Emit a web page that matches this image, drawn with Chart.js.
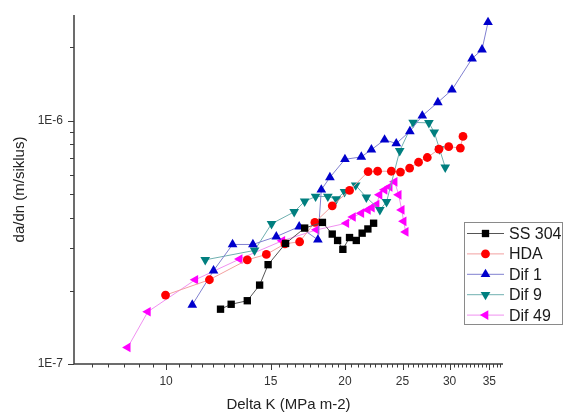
<!DOCTYPE html>
<html>
<head>
<meta charset="utf-8">
<script src="https://cdn.jsdelivr.net/npm/chart.js@4.4.0/dist/chart.umd.min.js"></script>
<style>
body { margin: 0; background: #fff; }
#wrap { width: 564px; height: 415px; }
</style>
</head>
<body>
<div id="wrap"><canvas id="myChart" width="564" height="415"></canvas></div>
<script>
// Delta K (MPa m-2) vs da/dn (m/siklus)
var ss304X = [12.35, 12.87, 13.70, 14.37, 14.85, 15.89, 17.11, 18.33, 19.04, 19.44, 19.84, 20.36, 20.90, 21.38, 21.86, 22.35];
var ss304Y = [1.68e-7, 1.76e-7, 1.82e-7, 2.11e-7, 2.56e-7, 3.13e-7, 3.62e-7, 3.82e-7, 3.42e-7, 3.22e-7, 2.96e-7, 3.31e-7, 3.22e-7, 3.45e-7, 3.59e-7, 3.79e-7];

var hdaX = [9.98, 11.83, 13.70, 14.75, 15.85, 16.78, 17.80, 19.04, 20.36, 21.88, 22.70, 23.94, 24.80, 25.70, 26.60, 27.52, 28.79, 29.90, 31.28, 31.60];
var hdaY = [1.92e-7, 2.22e-7, 2.68e-7, 2.82e-7, 3.12e-7, 3.18e-7, 3.82e-7, 4.47e-7, 5.17e-7, 6.18e-7, 6.20e-7, 6.20e-7, 6.15e-7, 6.39e-7, 6.75e-7, 7.06e-7, 7.64e-7, 7.82e-7, 7.72e-7, 8.62e-7];

var dif1X = [11.07, 12.02, 12.94, 14.00, 15.33, 16.75, 18.01, 18.25, 18.87, 20.00, 21.31, 22.16, 23.32, 24.40, 25.72, 26.99, 28.67, 30.28, 32.73, 34.02, 34.82];
var dif1Y = [1.75e-7, 2.42e-7, 3.10e-7, 3.10e-7, 3.34e-7, 3.67e-7, 3.24e-7, 5.20e-7, 5.85e-7, 6.94e-7, 7.10e-7, 7.60e-7, 8.35e-7, 8.06e-7, 9.04e-7, 1.048e-6, 1.19e-6, 1.34e-6, 1.80e-6, 1.96e-6, 2.54e-6];

var dif9X = [11.64, 14.09, 15.05, 16.43, 17.11, 17.85, 18.72, 19.34, 19.97, 20.85, 21.73, 22.90, 23.50, 24.73, 26.05, 27.69, 28.27, 28.86, 29.50];
var dif9Y = [2.68e-7, 2.93e-7, 3.77e-7, 4.22e-7, 4.66e-7, 4.88e-7, 4.88e-7, 4.76e-7, 5.10e-7, 5.43e-7, 4.84e-7, 4.30e-7, 4.64e-7, 7.52e-7, 9.84e-7, 9.80e-7, 8.97e-7, 7.64e-7, 6.43e-7];

var dif49X = [8.62, 9.32, 11.20, 13.30, 15.69, 17.92, 20.11, 20.63, 21.31, 21.86, 22.20, 22.61, 22.87, 23.32, 23.78, 24.25, 24.63, 24.92, 25.11, 25.31];
var dif49Y = [1.17e-7, 1.64e-7, 2.22e-7, 2.70e-7, 3.21e-7, 3.56e-7, 3.79e-7, 4.02e-7, 4.17e-7, 4.30e-7, 4.39e-7, 4.52e-7, 4.96e-7, 5.20e-7, 5.35e-7, 5.61e-7, 4.96e-7, 4.30e-7, 3.86e-7, 3.49e-7];

var seriesNames = ['SS 304', 'HDA', 'Dif 1', 'Dif 9', 'Dif 49'];

var xTickValues = [10, 15, 20, 25, 30, 35];
var xTickLabels = ['10', '15', '20', '25', '30', '35'];
var yTickValues = [1e-7, 1e-6];
var yTickLabels = ['1E-7', '1E-6'];

var FONT = "'Liberation Sans', Arial, Helvetica, sans-serif";

function pts(xs, ys) {
  return xs.map(function (x, i) { return { x: x, y: ys[i] }; });
}

function mkSet(label, xs, ys, color, lineColor, style, rot, r) {
  return {
    label: label,
    data: pts(xs, ys),
    showLine: true,
    borderColor: lineColor,
    borderWidth: 1,
    backgroundColor: color,
    pointBackgroundColor: color,
    pointBorderColor: color,
    pointBorderWidth: 0,
    pointStyle: style,
    pointRotation: rot,
    pointRadius: r,
    tension: 0
  };
}

var datasets = [
  mkSet(seriesNames[0], ss304X, ss304Y, '#000000', '#555555', 'rect', 0, 5.2),
  mkSet(seriesNames[1], hdaX, hdaY, '#ff0000', '#f2a0a0', 'circle', 0, 4.4),
  mkSet(seriesNames[2], dif1X, dif1Y, '#0000cc', '#8080d0', 'triangle', 0, 5.6),
  mkSet(seriesNames[3], dif9X, dif9Y, '#007f7f', '#70b0b0', 'triangle', 180, 5.6),
  mkSet(seriesNames[4], dif49X, dif49Y, '#ff00ff', '#f090f0', 'triangle', -90, 5.6)
];

// axis lines, major/minor ticks and the boxed legend, Origin style
var originPlugin = {
  id: 'originStyle',
  afterDraw: function (chart) {
    var ctx = chart.ctx, a = chart.chartArea;
    var xs = chart.scales.x, ys = chart.scales.y;
    ctx.save();
    ctx.strokeStyle = '#3c3c3c';
    ctx.lineWidth = 1.5;
    ctx.beginPath();
    ctx.moveTo(a.left, a.top);
    ctx.lineTo(a.left, a.bottom);
    ctx.lineTo(a.right, a.bottom);
    ctx.stroke();

    ctx.lineWidth = 1;
    ctx.beginPath();
    for (var v = 7.5; v <= 36.6; v += 0.5) {
      var px = Math.round(xs.getPixelForValue(v)) + 0.5;
      var len = xTickValues.indexOf(v) >= 0 ? 6 : 3.5;
      ctx.moveTo(px, a.bottom);
      ctx.lineTo(px, a.bottom + len);
    }
    var dec = [1e-7, 1e-6];
    dec.forEach(function (d) {
      for (var m = 1; m <= 9; m++) {
        var val = d * m;
        if (val > ys.max) break;
        var py = Math.round(ys.getPixelForValue(val)) + 0.5;
        var l = m === 1 ? 6 : 4;
        ctx.moveTo(a.left, py);
        ctx.lineTo(a.left - l, py);
      }
    });
    ctx.stroke();

    // legend box
    var bx = 464, by = 222, bw = 98, bh = 102;
    ctx.strokeStyle = '#8a8a8a';
    ctx.lineWidth = 1;
    ctx.strokeRect(bx + 0.5, by + 0.5, bw, bh);
    chart.data.datasets.forEach(function (ds, i) {
      var cy = 233.5 + i * 20.4;
      ctx.strokeStyle = ds.borderColor;
      ctx.lineWidth = 1;
      ctx.beginPath();
      ctx.moveTo(467, cy);
      ctx.lineTo(504, cy);
      ctx.stroke();
      ctx.fillStyle = ds.pointBackgroundColor;
      ctx.strokeStyle = ds.pointBorderColor;
      Chart.helpers.drawPoint(ctx, {
        pointStyle: ds.pointStyle,
        rotation: ds.pointRotation,
        radius: ds.pointRadius,
        borderWidth: 0
      }, 485.5, cy);
      ctx.fillStyle = '#1a1a1a';
      ctx.font = '16px ' + FONT;
      ctx.textAlign = 'left';
      ctx.textBaseline = 'middle';
      ctx.fillText(ds.label, 509, cy + 1);
    });
    ctx.restore();
  }
};

var ctx = document.getElementById('myChart').getContext('2d');
var fracChart = new Chart(ctx, {
  type: 'scatter',
  data: { datasets: datasets },
  plugins: [originPlugin],
  options: {
    responsive: false,
    animation: false,
    devicePixelRatio: 1,
    layout: { padding: { top: 15, right: 61, left: 0, bottom: 0 } },
    plugins: { legend: { display: false }, tooltip: { enabled: false } },
    scales: {
      x: {
        type: 'logarithmic',
        position: 'bottom',
        min: 7,
        max: 36.9,
        grid: { display: false, drawTicks: false },
        border: { display: false },
        afterBuildTicks: function (scale) {
          scale.ticks = xTickValues.map(function (v) { return { value: v }; });
        },
        afterFit: function (scale) {
          scale.height = 51;
          scale.paddingLeft = 0;
          scale.paddingRight = 0;
        },
        ticks: {
          autoSkip: false,
          maxRotation: 0,
          padding: 10,
          color: '#333',
          font: { family: FONT, size: 12 },
          callback: function (v) {
            var i = xTickValues.indexOf(v);
            return i >= 0 ? xTickLabels[i] : '';
          }
        },
        title: {
          display: true,
          text: 'Delta K (MPa m-2)',
          color: '#222',
          font: { family: FONT, size: 15 },
          padding: { top: 0, bottom: 1 }
        }
      },
      y: {
        type: 'logarithmic',
        position: 'left',
        min: 1e-7,
        max: 2.72e-6,
        grid: { display: false, drawTicks: false },
        border: { display: false },
        afterBuildTicks: function (scale) {
          scale.ticks = yTickValues.map(function (v) { return { value: v }; });
        },
        afterFit: function (scale) {
          scale.width = 74;
          scale.paddingTop = 0;
          scale.paddingBottom = 0;
        },
        ticks: {
          autoSkip: false,
          padding: 11,
          color: '#333',
          font: { family: FONT, size: 12 },
          callback: function (v) {
            var i = yTickValues.indexOf(v);
            return i >= 0 ? yTickLabels[i] : '';
          }
        },
        title: {
          display: true,
          text: 'da/dn (m/siklus)',
          color: '#222',
          font: { family: FONT, size: 15 },
          padding: { top: 11, bottom: 0 }
        }
      }
    }
  }
});
</script>
</body>
</html>
